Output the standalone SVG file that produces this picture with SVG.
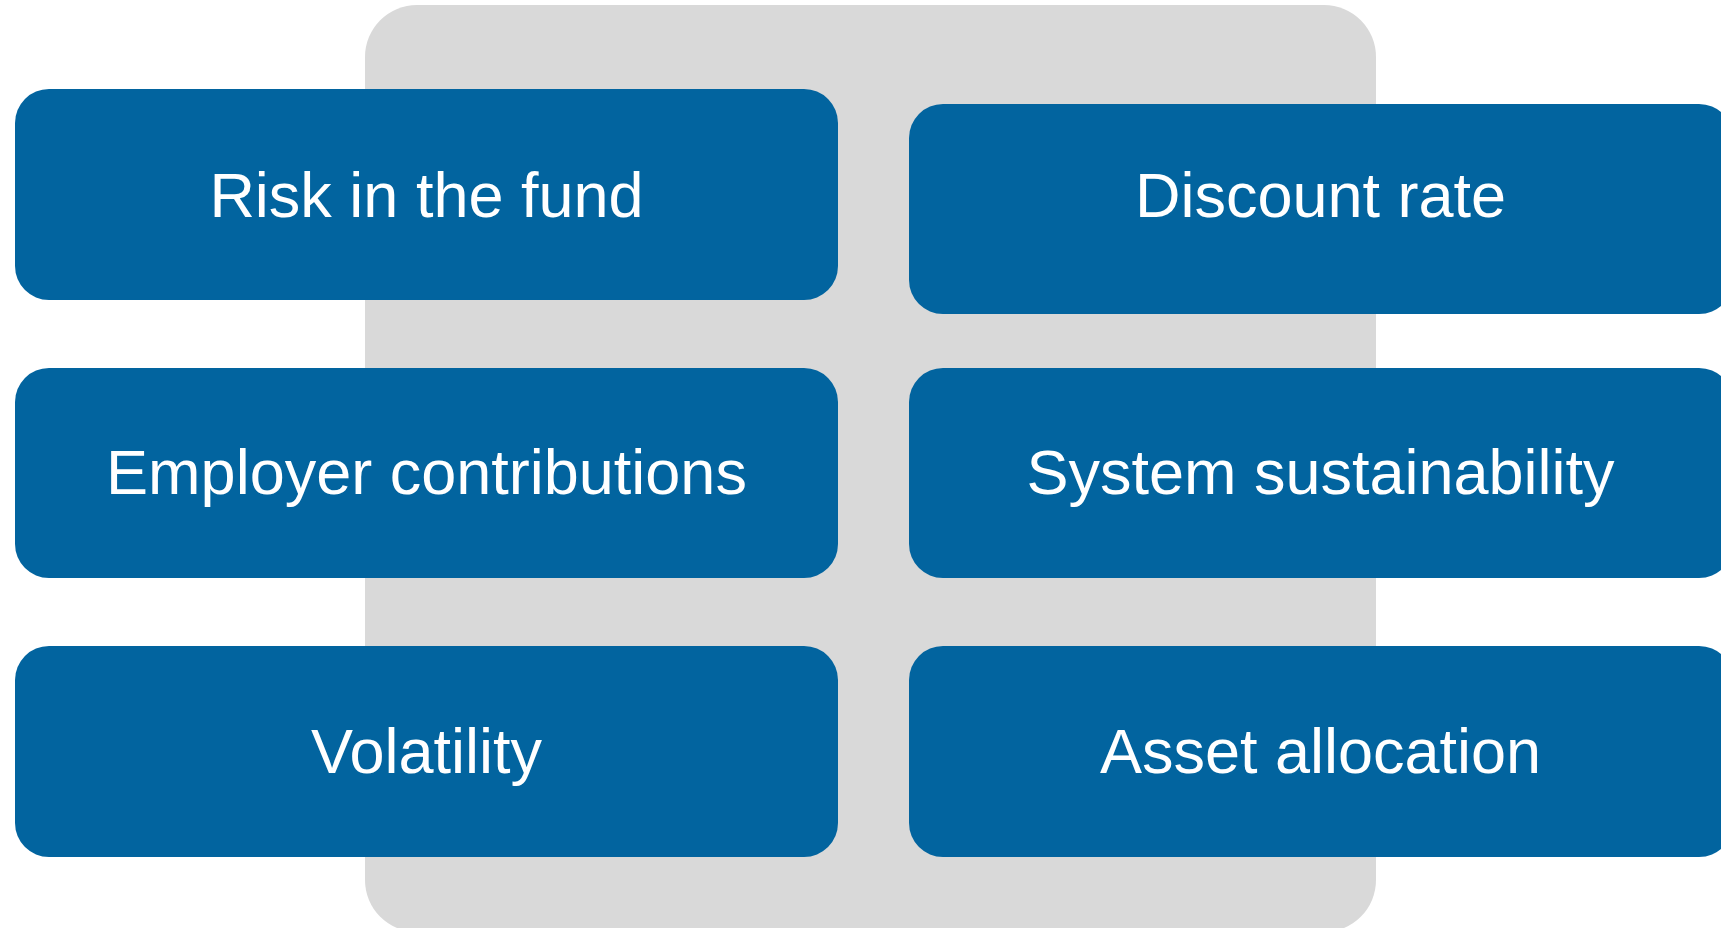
<svg xmlns="http://www.w3.org/2000/svg" width="1721" height="928" viewBox="0 0 1721 928">
  <style>
    .box { fill: #02649F; }
    .lbl { font-family: "Liberation Sans", Arial, sans-serif; font-size: 63px; fill: #FFFFFF; text-anchor: middle; }
  </style>
  <rect width="1721" height="928" fill="#FFFFFF"/>
  <g id="background">
    <rect x="365" y="5" width="1011" height="927" rx="52" ry="52" fill="#D9D9D9"/>
  </g>
  <g id="connectors"></g>
  <g id="node-risk">
    <rect class="box" x="15" y="89" width="823" height="211" rx="34" ry="34"/>
    <text class="lbl" x="426.5" y="217">Risk in the fund</text>
  </g>
  <g id="node-discount">
    <rect class="box" x="909" y="104" width="824" height="210" rx="34" ry="34"/>
    <text class="lbl" x="1320.5" y="217">Discount rate</text>
  </g>
  <g id="node-employer">
    <rect class="box" x="15" y="368" width="823" height="210" rx="34" ry="34"/>
    <text class="lbl" x="426.5" y="494">Employer contributions</text>
  </g>
  <g id="node-system">
    <rect class="box" x="909" y="368" width="824" height="210" rx="34" ry="34"/>
    <text class="lbl" x="1320.5" y="494">System sustainability</text>
  </g>
  <g id="node-volatility">
    <rect class="box" x="15" y="646" width="823" height="211" rx="34" ry="34"/>
    <text class="lbl" x="426.5" y="773">Volatility</text>
  </g>
  <g id="node-asset">
    <rect class="box" x="909" y="646" width="824" height="211" rx="34" ry="34"/>
    <text class="lbl" x="1320.5" y="773">Asset allocation</text>
  </g>
</svg>
